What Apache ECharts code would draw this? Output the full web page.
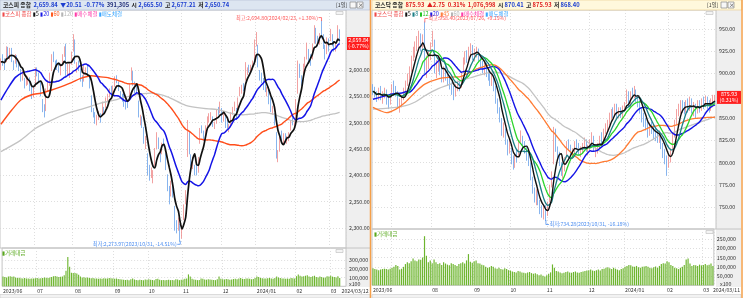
<!DOCTYPE html>
<html>
<head>
<meta charset="utf-8">
<script src="https://cdn.jsdelivr.net/npm/echarts@6.0.0/dist/echarts.min.js"></script>
<style>
html,body{margin:0;padding:0;background:#ffffff;}
#chart{width:743px;height:298px;}
</style>
</head>
<body>
<div id="chart"></div>
<script>
// ---------------- DATA ----------------
const tradingDays = [
  ['2023/06', [5,7,8,9,12,13,14,15,16,19,20,21,22,23,26,27,28,29,30]],
  ['2023/07', [3,4,5,6,7,10,11,12,13,14,17,18,19,20,21,24,25,26,27,28,31]],
  ['2023/08', [1,2,3,4,7,8,9,10,11,14,16,17,18,21,22,23,24,25,28,29,30,31]],
  ['2023/09', [1,4,5,6,7,8,11,12,13,14,15,18,19,20,21,22,25,26,27]],
  ['2023/10', [4,5,6,10,11,12,13,16,17,18,19,20,23,24,25,26,27,30,31]],
  ['2023/11', [1,2,3,6,7,8,9,10,13,14,15,16,17,20,21,22,23,24,27,28,29,30]],
  ['2023/12', [1,4,5,6,7,8,11,12,13,14,15,18,19,20,21,22,26,27,28]],
  ['2024/01', [2,3,4,5,8,9,10,11,12,15,16,17,18,19,22,23,24,25,26,29,30,31]],
  ['2024/02', [1,2,5,6,7,8,13,14,15,16,19,20,21,22,23,26,27,28,29]],
  ['2024/03', [4,5,6,7,8,11]]
];
const kospiLastLabel = '2024/03/12';
const kosdaqFirstDate = '2023/06/19';

// KOSPI (left)
const kospiOpen = [2605,2620,2612,2618,2640,2628,2640,2610,2615,2625,2605,2600,2585,2580,2575,2580,2585,2565,2552,
2570,2600,2590,2575,2540,2530,2525,2565,2575,2600,2630,2612,2615,2610,2595,2612,2630,2640,2598,2600,2615,
2640,2655,2605,2612,2600,2585,2580,2595,2605,2585,2550,2520,2515,2500,2515,2512,2520,2525,2530,2545,2555,2565,
2560,2570,2585,2575,2555,2550,2552,2540,2535,2545,2585,2595,2575,2565,2540,2500,2510,2490,2455,
2440,2415,2400,2390,2420,2455,2470,2440,2448,2465,2440,2400,2375,2365,2380,2340,2305,2310,2305,
2285,2320,2350,2440,2480,2430,2420,2415,2420,2410,2465,2492,2480,2475,2495,2505,2510,2510,2492,2500,2525,2520,
2525,2508,2510,2500,2488,2500,2520,2528,2525,2530,2555,2560,2570,2585,2595,2605,2600,2605,2620,
2650,2645,2595,2590,2580,2575,2555,2565,2545,2520,2515,2480,2430,2450,2480,2465,2475,2465,2470,2490,2505,2495,
2500,2560,2610,2585,2590,2612,2625,2635,2625,2625,2655,2675,2660,2655,2670,2665,2645,2635,2655,
2660,2665,2650,2640,2660,2665.5];
const kospiClose = [2615.4,2615.7,2610.4,2641.2,2629.4,2637.9,2619.1,2608.5,2625.8,2609.5,2604.9,2582.6,2593.7,2570.1,2582.2,2581.1,2564.2,2550.1,2564.3,
2602.5,2593.4,2579.0,2556.3,2526.7,2519.9,2562.5,2574.7,2591.3,2628.3,2619.1,2608.2,2607.2,2599.6,2609.8,2628.3,2636.5,2592.4,2603.8,2608.3,2632.6,
2667.1,2616.5,2605.4,2602.8,2580.7,2573.9,2605.1,2601.6,2591.3,2570.9,2525.6,2519.9,2504.5,2508.8,2516.1,2505.5,2537.7,2519.1,2543.4,2552.2,2561.2,2556.3,
2563.7,2584.6,2582.2,2563.3,2548.3,2547.7,2535.5,2536.6,2534.7,2572.9,2601.3,2574.7,2559.2,2559.7,2514.9,2508.1,2495.8,2462.9,2465.1,
2405.7,2403.6,2408.7,2402.6,2450.1,2479.8,2456.2,2436.2,2460.2,2462.6,2415.8,2375.0,2357.4,2383.5,2363.2,2299.1,2302.8,2310.6,2277.9,
2301.6,2343.1,2368.3,2502.4,2443.9,2421.6,2427.1,2409.7,2403.8,2433.3,2486.7,2488.2,2469.9,2491.2,2510.4,2511.7,2514.4,2496.6,2496.6,2521.8,2522.0,2535.3,
2505.0,2514.8,2495.7,2495.4,2492.1,2517.9,2525.4,2535.3,2510.7,2544.2,2563.6,2566.9,2568.6,2614.3,2600.0,2599.5,2602.6,2613.5,2655.3,
2669.8,2607.3,2587.0,2578.1,2567.8,2561.2,2562.0,2540.3,2525.1,2525.0,2497.6,2435.9,2440.0,2472.7,2464.4,2478.6,2469.7,2470.3,2478.6,2500.7,2498.8,2497.1,
2542.5,2615.3,2591.3,2576.2,2609.6,2620.3,2649.6,2620.4,2613.8,2648.8,2680.3,2657.8,2653.3,2664.3,2667.7,2647.1,2625.1,2658.8,2642.4,
2674.3,2649.4,2641.5,2647.6,2680.4,2659.84];
const kospiHigh = [2622,2630,2622,2645,2644,2642,2642,2618,2630,2628,2615,2602,2598,2585,2590,2588,2586,2568,2570,
2605,2605,2595,2578,2545,2535,2565,2580,2595,2630,2635,2618,2620,2615,2612,2630,2645,2650,2612,2612,2635,
2668,2658,2615,2618,2603,2590,2608,2605,2610,2590,2552,2528,2520,2515,2522,2518,2540,2530,2548,2555,2565,2570,
2570,2588,2590,2578,2560,2555,2555,2545,2542,2575,2605,2598,2578,2570,2542,2515,2512,2492,2475,
2442,2420,2415,2410,2452,2482,2472,2445,2462,2470,2442,2402,2380,2390,2385,2342,2315,2320,2308,
2305,2345,2372,2505,2482,2440,2435,2420,2425,2435,2490,2495,2485,2495,2512,2518,2520,2512,2502,2525,2530,2540,
2528,2520,2512,2505,2498,2520,2530,2540,2528,2548,2568,2572,2575,2615,2605,2610,2610,2618,2658,
2672,2648,2600,2595,2585,2578,2568,2568,2548,2532,2518,2482,2448,2475,2485,2480,2480,2475,2482,2505,2510,2505,
2545,2618,2612,2590,2612,2625,2652,2640,2630,2650,2685,2680,2665,2670,2694.8,2668,2648,2662,2660,
2678,2668,2655,2652,2685,2677.21];
const kospiLow = [2600,2608,2600,2615,2622,2620,2615,2600,2612,2605,2598,2578,2580,2565,2570,2572,2560,2545,2548,
2568,2588,2575,2550,2520,2510,2522,2560,2570,2598,2615,2600,2600,2595,2590,2608,2625,2588,2590,2585,2610,
2635,2612,2595,2598,2578,2568,2578,2590,2588,2565,2520,2510,2498,2495,2505,2500,2515,2515,2528,2540,2548,2550,
2552,2568,2575,2560,2545,2540,2530,2525,2528,2542,2580,2570,2555,2555,2510,2495,2490,2460,2450,
2400,2390,2395,2385,2418,2450,2450,2425,2440,2455,2410,2370,2345,2360,2358,2295,2290,2295,2273.97,
2280,2315,2345,2435,2440,2418,2412,2400,2400,2405,2460,2480,2465,2470,2490,2500,2505,2492,2488,2498,2515,2518,
2500,2502,2490,2488,2482,2495,2515,2522,2505,2525,2550,2555,2560,2580,2590,2595,2595,2600,2618,
2645,2605,2580,2575,2562,2558,2550,2535,2520,2515,2495,2432,2425,2445,2460,2458,2462,2460,2465,2485,2495,2490,
2498,2555,2585,2570,2585,2605,2620,2615,2608,2620,2650,2650,2645,2648,2660,2640,2620,2630,2635,
2655,2645,2635,2635,2655,2650.74];
const kospiValue = [110000,105000,100000,112000,115000,108000,110000,100000,95000,98000,92000,90000,95000,88000,90000,85000,88000,90000,92000,
95000,90000,92000,95000,100000,98000,95000,100000,105000,115000,118000,110000,105000,108000,112000,125000,178000,333000,222000,155000,150000,
150000,145000,130000,110000,100000,102000,98000,100000,95000,92000,95000,90000,88000,85000,90000,85000,92000,88000,90000,95000,92000,90000,
85000,88000,82000,80000,78000,75000,72000,75000,70000,80000,88000,78000,72000,70000,75000,72000,70000,78000,75000,
80000,75000,72000,70000,82000,85000,75000,70000,72000,68000,72000,75000,70000,72000,68000,80000,78000,70000,75000,
78000,85000,90000,135000,110000,85000,78000,75000,70000,72000,88000,85000,78000,75000,80000,78000,75000,72000,70000,80000,111000,85000,
80000,78000,82000,80000,75000,78000,82000,85000,80000,90000,95000,85000,82000,90000,88000,85000,80000,82000,95000,
110000,105000,95000,92000,90000,88000,92000,95000,90000,85000,95000,110000,100000,95000,88000,90000,85000,88000,85000,95000,92000,90000,
115000,135000,120000,110000,115000,120000,125000,110000,105000,115000,120000,105000,100000,110000,105000,98000,100000,115000,110000,
120000,110000,105000,100000,115000,95000];
const kospiMa20Early = [[0,2543],[4,2566],[8,2586],[12,2595],[16,2598]];
const kospiMa60Early = [[0,2497],[6,2524],[11,2543],[17,2553],[22,2556],[28,2562],[33,2568],[39,2576],[44,2584],[50,2589],[55,2587]];
const kospiMa120Early = [[0,2445],[11,2467],[19,2489],[28,2505],[37,2518],[46,2527],[55,2537],[64,2544],[74,2553],[83,2556],[92,2549],[102,2533],[112,2527]];
const kospiPriceTicks = [2300,2350,2400,2450,2500,2550,2600,2650];
const kospiValueTicks = [100000,200000,300000];

// KOSDAQ (right)
const kosdaqOpen = [884,881,878,872,882,872,876,880,870,868,
878,886,884,878,862,866,874,882,890,896,906,920,922,932,936,940,932,945,905,912,918,
934,935,902,912,914,904,895,906,898,895,886,880,878,884,888,886,902,915,922,916,925,930,
918,922,926,918,912,903,910,900,898,890,896,884,870,858,848,832,836,822,814,
815,802,798,810,808,826,828,820,815,808,798,782,768,758,766,755,745,740,748,
744,758,775,800,835,815,808,798,786,794,808,822,818,808,812,822,820,810,812,818,824,812,
818,822,828,812,814,818,828,826,836,838,845,852,858,854,864,854,860,852,860,
868,878,865,880,876,880,872,868,860,852,846,844,834,842,838,834,832,826,830,820,812,806,
798,805,815,830,846,858,860,866,862,860,866,862,868,858,862,858,866,862,868,
865,870,866,862,866,870.41];
const kosdaqClose = [880,877,872,880,874,875,878,872,869,875,
884,882,879,868,866,872,880,888,895,905,918,922,930,935,938,930,940,902,912,916,932,
939,905,910,912,905,896,905,897,893,888,882,880,883,886,885,900,915,920,917,924,928,920,
922,925,918,912,905,908,902,898,892,895,886,870,860,852,835,838,825,815,822,
801,798,806,805,823,830,818,815,806,800,784,768,762,765,758,746,742,745,745,
752,772,784,839,815,806,800,789,792,803,821,818,808,812,820,819,812,813,818,823,815,817,
823,830,815,814,818,826,827,835,838,845,852,856,855,862,855,858,855,860,866,
879,866,878,878,879,872,868,860,850,845,842,835,840,838,832,830,828,832,820,812,805,799,
806,812,830,845,858,860,865,862,860,865,862,868,860,862,858,865,862,868,865,
870,865,862,868,873.18,875.93];
const kosdaqHigh = [888,885,880,884,886,880,884,882,875,878,
888,892,886,880,872,876,884,892,900,908,920,930,936,942,948,945,944,958.4,920,925,935,
948,938,915,920,918,908,908,910,902,898,890,886,888,892,892,902,918,925,926,930,934,932,
928,930,928,920,914,912,912,905,900,900,898,886,872,862,850,845,838,826,826,
816,808,810,814,825,836,830,824,818,812,800,784,772,770,770,758,752,752,752,
756,775,790,840,838,818,812,800,796,806,824,826,820,816,824,826,822,818,822,828,826,820,
826,834,830,818,822,830,834,838,844,848,856,860,862,866,866,862,862,864,868,
882,880,880,884,886,882,876,870,862,856,850,846,845,846,842,838,836,836,832,822,815,808,
810,816,834,848,860,866,870,870,868,870,872,874,872,868,866,870,870,872,874,
875,874,870,872,876,875.93];
const kosdaqLow = [876,873,868,870,870,866,872,865,860,865,
875,878,874,862,856,862,870,878,886,892,902,914,918,925,928,925,928,898,895,905,915,
930,900,895,902,898,890,890,892,886,882,876,870,874,880,880,884,900,910,912,914,920,915,
914,918,912,906,900,898,896,892,886,886,880,866,855,845,830,828,820,808,810,
798,792,794,800,806,822,814,810,802,796,780,765,755,752,752,742,738,736,734.28,
740,755,772,798,812,802,796,785,782,790,805,814,804,804,810,814,808,806,810,815,812,808,
814,820,812,806,810,815,822,824,832,835,842,848,850,852,850,850,850,850,857,
866,862,862,872,872,868,862,855,845,840,836,828,830,832,826,824,822,822,815,805,798,785,
794,800,812,828,842,852,855,856,854,856,856,858,855,852,850,855,856,858,860,
862,860,856,858,862,868.40];
const kosdaqValue = [92000,88000,85000,82000,85000,88000,90000,88000,85000,90000,
95000,100000,110000,105000,85000,90000,100000,115000,125000,120000,130000,145000,135000,130000,140000,138000,150000,266000,160000,125000,135000,
120000,140000,125000,115000,120000,110000,125000,118000,112000,108000,120000,115000,110000,105000,115000,120000,125000,118000,135000,169000,128000,122000,
130000,135000,120000,118000,112000,108000,100000,95000,98000,105000,100000,92000,90000,95000,88000,85000,92000,88000,82000,
80000,75000,72000,70000,78000,75000,70000,68000,65000,70000,72000,66000,62000,65000,60000,55000,58000,52000,48000,
55000,62000,70000,113000,95000,78000,75000,70000,65000,68000,72000,75000,70000,68000,72000,75000,70000,68000,72000,75000,78000,80000,
82000,85000,80000,78000,82000,85000,80000,88000,90000,95000,98000,92000,88000,95000,90000,85000,82000,88000,92000,
100000,105000,110000,108000,102000,100000,105000,98000,95000,100000,102000,105000,100000,95000,92000,98000,102000,95000,105000,115000,120000,118000,
130000,125000,110000,105000,95000,92000,88000,95000,100000,110000,140000,145000,118000,105000,110000,108000,105000,112000,108000,
110000,115000,108000,112000,118000,105000];
const kosdaqMa20Early = [[0,871],[5,874],[10,877],[15,878],[18,880]];
const kosdaqMa45Early = [[0,862],[4,858],[7,856],[12,860],[17,868],[22,879],[27,888],[34,894],[41,896]];
const kosdaqMa60Early = [[0,860],[8,861],[17,864],[22,868],[27,875],[34,883],[43,890],[52,896]];
const kosdaqPriceTicks = [750,775,800,825,850,875,900,925,950];
const kosdaqValueTicks = [50000,100000,150000,200000,250000];

// ---------------- BUILD ----------------
const FONT = '"Noto Sans CJK KR", "DejaVu Sans", sans-serif';
const allDates = [];
tradingDays.forEach(([ym, days]) => days.forEach(d => allDates.push(ym + '/' + String(d).padStart(2, '0'))));
const kospiDates = allDates.slice();
const kosdaqDates = allDates.slice(allDates.indexOf(kosdaqFirstDate));
const kospiCats = kospiDates.concat([kospiLastLabel, ' ', '  ']);
const kosdaqCats = kosdaqDates.slice();

function monthStarts(dates) {
  const s = [];
  for (let i = 1; i < dates.length; i++) if (dates[i].slice(0, 7) !== dates[i - 1].slice(0, 7)) s.push(i);
  return s;
}
const leftMonth = monthStarts(kospiDates);
const rightMonth = monthStarts(kosdaqDates);
const leftLabelSet = new Set([0, ...leftMonth, kospiDates.length]);
const rightLabelSet = new Set([0, ...rightMonth.filter(i => kosdaqDates[i].slice(0, 7) !== '2023/07'), kosdaqDates.length - 1]);
const leftSplitSet = new Set(leftMonth);
const rightSplitSet = new Set(rightMonth);

function dateFormatter(lastIdx) {
  return function (value, idx) {
    if (idx === 0) return value.slice(0, 7);
    if (idx === lastIdx) return value;
    if (value.slice(5, 7) === '01') return value.slice(0, 7);
    return value.slice(5, 7);
  };
}

function movingAverage(values, n, early) {
  return values.map((_, i) => {
    if (i >= n - 1) {
      let s = 0; for (let k = i - n + 1; k <= i; k++) s += values[k];
      return +(s / n).toFixed(2);
    }
    if (!early) {
      let s = 0; for (let k = 0; k <= i; k++) s += values[k];
      return +(s / (i + 1)).toFixed(2);
    }
    const hit = early.find(p => p[0] === i);
    return hit ? hit[1] : null;
  });
}

const kospiCandles = kospiClose.map((c, i) => [kospiOpen[i], c, kospiLow[i], kospiHigh[i]]);
const kosdaqCandles = kosdaqClose.map((c, i) => [kosdaqOpen[i], c, kosdaqLow[i], kosdaqHigh[i]]);

const fmtPrice = v => v.toLocaleString('en-US', {minimumFractionDigits: 2, maximumFractionDigits: 2});
const fmtVol = v => v.toLocaleString('en-US');

const gridLine = {show: true, lineStyle: {color: '#d6d6d6', type: [1, 2], width: 0.8}};

function catAxis(grid, cats, showLabel, labelSet, splitSet, lastIdx) {
  return {
    type: 'category', gridIndex: grid, data: cats, boundaryGap: true,
    axisLine: {show: false}, axisTick: {show: false},
    axisLabel: {show: showLabel, interval: i => labelSet.has(i), formatter: dateFormatter(lastIdx),
      align: 'left', fontSize: 5.2, color: '#333', margin: 2.5, fontFamily: FONT},
    splitLine: {show: true, interval: i => splitSet.has(i), lineStyle: {color: '#d6d6d6', type: [1, 2], width: 0.8}}
  };
}
function valAxis(grid, min, max, ticks, fmt) {
  return {
    type: 'value', gridIndex: grid, position: 'right', min, max, scale: true,
    axisLine: {show: false},
    axisTick: {show: false, customValues: ticks},
    axisLabel: {customValues: ticks, formatter: fmt, fontSize: 5.3, color: '#333', margin: 3, fontFamily: FONT},
    splitLine: gridLine
  };
}

const lineBase = {type: 'line', showSymbol: false, symbol: 'none', connectNulls: true, smooth: 0.25, silent: true};
const candleStyle = {color: '#f6a3a3', color0: '#8ab9f0', borderColor: '#ef8a8a', borderColor0: '#6aa2ea', borderWidth: 0.8};

const option = {
  animation: false,
  backgroundColor: '#ffffff',
  textStyle: {fontFamily: FONT},
  grid: [
    {left: 0, top: 10, width: 346, height: 238, show: true, borderColor: '#c4c4c4', borderWidth: 1},
    {left: 0, top: 248, width: 346, height: 38.3, show: true, borderColor: '#c4c4c4', borderWidth: 1},
    {left: 372, top: 10, width: 344, height: 219, show: true, borderColor: '#c4c4c4', borderWidth: 1},
    {left: 372, top: 229, width: 344, height: 56.3, show: true, borderColor: '#c4c4c4', borderWidth: 1}
  ],
  xAxis: [
    catAxis(0, kospiCats, false, leftLabelSet, leftSplitSet, kospiDates.length),
    catAxis(1, kospiCats, true, leftLabelSet, leftSplitSet, kospiDates.length),
    catAxis(2, kosdaqCats, false, rightLabelSet, rightSplitSet, kosdaqDates.length - 1),
    catAxis(3, kosdaqCats, true, rightLabelSet, rightSplitSet, kosdaqDates.length - 1)
  ],
  yAxis: [
    valAxis(0, 2262.2, 2713.9, kospiPriceTicks, fmtPrice),
    valAxis(1, 0, 435000, kospiValueTicks, fmtVol),
    valAxis(2, 725.3, 971.3, kosdaqPriceTicks, fmtPrice),
    valAxis(3, 0, 305000, kosdaqValueTicks, fmtVol)
  ],
  series: [
    {type: 'candlestick', xAxisIndex: 0, yAxisIndex: 0, data: kospiCandles, barWidth: 1.2, itemStyle: candleStyle, silent: true, z: 2},
    Object.assign({}, lineBase, {name: '120', xAxisIndex: 0, yAxisIndex: 0, data: movingAverage(kospiClose, 120, kospiMa120Early), lineStyle: {color: '#c3c3c3', width: 1.3}, z: 3}),
    Object.assign({}, lineBase, {name: '60', xAxisIndex: 0, yAxisIndex: 0, data: movingAverage(kospiClose, 60, kospiMa60Early), lineStyle: {color: '#ff4d1a', width: 1.4}, z: 4}),
    Object.assign({}, lineBase, {name: '20', xAxisIndex: 0, yAxisIndex: 0, data: movingAverage(kospiClose, 20, kospiMa20Early), lineStyle: {color: '#1414e6', width: 1.5}, z: 5}),
    Object.assign({}, lineBase, {name: '5', xAxisIndex: 0, yAxisIndex: 0, data: movingAverage(kospiClose, 5, null), lineStyle: {color: '#111111', width: 1.7}, z: 6}),
    {type: 'bar', xAxisIndex: 1, yAxisIndex: 1, data: kospiValue, barWidth: '62%', itemStyle: {color: '#6db52e'}, silent: true},

    {type: 'candlestick', xAxisIndex: 2, yAxisIndex: 2, data: kosdaqCandles, barWidth: 1.3, itemStyle: candleStyle, silent: true, z: 2},
    Object.assign({}, lineBase, {name: '60', xAxisIndex: 2, yAxisIndex: 2, data: movingAverage(kosdaqClose, 60, kosdaqMa60Early), lineStyle: {color: '#c3c3c3', width: 1.3}, z: 3}),
    Object.assign({}, lineBase, {name: '45', xAxisIndex: 2, yAxisIndex: 2, data: movingAverage(kosdaqClose, 45, kosdaqMa45Early), lineStyle: {color: '#ff7b33', width: 1.3}, z: 4}),
    Object.assign({}, lineBase, {name: '20', xAxisIndex: 2, yAxisIndex: 2, data: movingAverage(kosdaqClose, 20, kosdaqMa20Early), lineStyle: {color: '#1414e6', width: 1.4}, z: 5}),
    Object.assign({}, lineBase, {name: '12', xAxisIndex: 2, yAxisIndex: 2, data: movingAverage(kosdaqClose, 12, null), lineStyle: {color: '#2bd42b', width: 1.3}, z: 6}),
    Object.assign({}, lineBase, {name: '8', xAxisIndex: 2, yAxisIndex: 2, data: movingAverage(kosdaqClose, 8, null), lineStyle: {color: '#1b7f86', width: 1.3}, z: 7}),
    Object.assign({}, lineBase, {name: '5', xAxisIndex: 2, yAxisIndex: 2, data: movingAverage(kosdaqClose, 5, null), lineStyle: {color: '#111111', width: 1.4}, z: 8}),
    {type: 'bar', xAxisIndex: 3, yAxisIndex: 3, data: kosdaqValue, barWidth: '62%', itemStyle: {color: '#6db52e'}, silent: true}
  ]
};

const chart = echarts.init(document.getElementById('chart'), null, {renderer: 'canvas', width: 743, height: 298});
chart.setOption(option);

// ---------------- DECORATION ----------------
function px(grid, idx, val) { return chart.convertToPixel({xAxisIndex: grid, yAxisIndex: grid}, [idx, val]); }
function text(x, y, t, st) {
  return {type: 'text', x, y, silent: true, z: 50,
    style: Object.assign({text: t, fontSize: 5.5, fontFamily: FONT, fill: '#333', verticalAlign: 'middle', align: 'left'}, st || {})};
}
function rect(x, y, w, h, fill, stroke, z) {
  return {type: 'rect', silent: true, z: z === undefined ? -5 : z, shape: {x, y, width: w, height: h},
    style: {fill: fill, stroke: stroke || null, lineWidth: 0.6}};
}
function line(pts, color, w, z) {
  return {type: 'polyline', silent: true, z: z || 40, shape: {points: pts}, style: {stroke: color, lineWidth: w || 0.8, fill: null}};
}

const g = [];
// axis areas
g.push(rect(346, 10, 24, 277, '#efefef', null, -5));
g.push(rect(716, 10, 25, 277, '#efefef', null, -5));
// headers
g.push(rect(0, 0, 370, 10, '#dde6f1', '#aebbd0', 1));
g.push(rect(372, 0, 370, 10, '#fff8dc', '#e8c98a', 1));
const hdRich = {
  k: {fill: '#202020', fontSize: 5.8, fontWeight: 'bold', fontFamily: FONT},
  b: {fill: '#1d3fd0', fontSize: 5.8, fontWeight: 'bold', fontFamily: FONT},
  r: {fill: '#e01e1e', fontSize: 5.8, fontWeight: 'bold', fontFamily: FONT},
  n: {fill: '#23307a', fontSize: 5.8, fontWeight: 'bold', fontFamily: FONT}
};
g.push(text(3, 5, '{k|코스피 종합}  {b|2,659.84  ▼20.51  -0.77%}  {n|391,305}  {k|시} {b|2,665.50}  {k|고} {b|2,677.21}  {k|저} {b|2,650.74}', {rich: hdRich}));
g.push(text(375, 5, '{k|코스닥 종합}  {r|875.93  ▲2.75  0.31%}  {r|1,076,998}  {k|시} {b|870.41}  {k|고} {r|875.93}  {k|저} {b|868.40}', {rich: hdRich}));
[[336, 0], [707, 0]].forEach(([x]) => {
  g.push(text(x, 5, '[1일]', {fontSize: 5.3, fill: '#333'}));
  g.push(rect(x + 14, 2, 6, 6, '#f7f7f7', '#777', 2));
  g.push(rect(x + 21, 2, 6, 6, '#f7f7f7', '#777', 2));
  g.push(text(x + 22, 5, '×', {fontSize: 5.5, fill: '#333'}));
});
// legends
const lgRich = {
  red: {fill: '#ef4b4b', fontSize: 5.5, fontFamily: FONT}, blk: {fill: '#111', fontSize: 5.5, fontFamily: FONT},
  blu: {fill: '#1a1ae6', fontSize: 5.5, fontFamily: FONT}, org: {fill: '#ff5a1f', fontSize: 5.5, fontFamily: FONT},
  gry: {fill: '#b5b5b5', fontSize: 5.5, fontFamily: FONT}, mag: {fill: '#ff3aa8', fontSize: 5.5, fontFamily: FONT},
  cya: {fill: '#3aa6ff', fontSize: 5.5, fontFamily: FONT}, tea: {fill: '#1b7f86', fontSize: 5.5, fontFamily: FONT},
  grn: {fill: '#22c322', fontSize: 5.5, fontFamily: FONT}, ora: {fill: '#ff8040', fontSize: 5.5, fontFamily: FONT},
  vol: {fill: '#58a81c', fontSize: 5.5, fontFamily: FONT}
};
g.push(text(2, 13.5, '{red|▮코스피 종합} {blk|▮5} {blu|▮20} {org|▮60} {gry|▮120} {mag|▮매수체결} {cya|▮매도체결}', {rich: lgRich}));
g.push(text(374, 13.5, '{red|▮코스닥 종합} {blk|▮5} {tea|▮8} {grn|▮12} {blu|▮20} {ora|▮45} {gry|▮60} {mag|▮매수체결} {cya|▮매도체결}', {rich: lgRich}));
g.push(text(2, 252.5, '{vol|▮거래대금}', {rich: lgRich}));
g.push(text(374, 233.5, '{vol|▮거래대금}', {rich: lgRich}));
// small panel icons
g.push(rect(336, 11.5, 7, 3, '#f4f4f4', '#bbb', 2));
g.push(rect(336, 249.5, 7, 3, '#f4f4f4', '#bbb', 2));
g.push(rect(706, 11.5, 7, 3, '#f4f4f4', '#bbb', 2));
g.push(rect(706, 230.5, 7, 3, '#f4f4f4', '#bbb', 2));
// unit labels
g.push(text(349, 283.5, 'x100', {fontSize: 5.3}));
g.push(text(720, 283.5, 'x100', {fontSize: 5.3}));
// current price boxes
const lp = px(0, kospiDates.length - 1, kospiClose[kospiClose.length - 1]);
g.push(rect(347, lp[1] - 1.5, 23, 13, '#ff1f1f', null, 45));
g.push(text(358.5, lp[1] + 2, '2,659.84', {fill: '#fff', fontSize: 5.3, align: 'center'}));
g.push(text(358.5, lp[1] + 8, '(-0.77%)', {fill: '#fff', fontSize: 5.3, align: 'center'}));
const rp = px(2, kosdaqDates.length - 1, kosdaqClose[kosdaqClose.length - 1]);
g.push(rect(717, rp[1] - 4, 24, 13, '#ff1f1f', null, 45));
g.push(text(729, rp[1] - 0.5, '875.93', {fill: '#fff', fontSize: 5.3, align: 'center'}));
g.push(text(729, rp[1] + 5.5, '(0.31%)', {fill: '#fff', fontSize: 5.3, align: 'center'}));
// high / low annotations
const kospiHiIdx = kospiHigh.indexOf(Math.max(...kospiHigh));
const kospiLoIdx = kospiLow.indexOf(Math.min(...kospiLow));
const kosdaqHiIdx = kosdaqHigh.indexOf(Math.max(...kosdaqHigh));
const kosdaqLoIdx = kosdaqLow.indexOf(Math.min(...kosdaqLow));
const a1 = px(0, kospiHiIdx, kospiHigh[kospiHiIdx]);
g.push(line([[a1[0] - 3, a1[1] - 2.5], [a1[0], a1[1] - 2.5], [a1[0], a1[1] + 1]], '#ff5a5a'));
g.push(text(a1[0] - 3.5, a1[1] - 2.5, '최고:2,694.80(2024/02/23, +1.30%)', {fill: '#ff5a5a', fontSize: 5.2, align: 'right'}));
const a2 = px(0, kospiLoIdx, kospiLow[kospiLoIdx]);
g.push(line([[a2[0] - 3, a2[1] + 2.5], [a2[0], a2[1] + 2.5], [a2[0], a2[1] - 1]], '#4d8ef0'));
g.push(text(a2[0] - 3.5, a2[1] + 2, '최저:2,273.97(2023/10/31, -14.51%)', {fill: '#4d8ef0', fontSize: 5.2, align: 'right'}));
const a3 = px(2, kosdaqHiIdx, kosdaqHigh[kosdaqHiIdx]);
g.push(line([[a3[0], a3[1] + 1], [a3[0], a3[1] - 3], [a3[0] + 3, a3[1] - 3]], '#ff5a5a'));
g.push(text(a3[0] + 3.5, a3[1] - 3, '최고:958.40(2023/07/26, +9.15%)', {fill: '#ff5a5a', fontSize: 5.2}));
const a4 = px(2, kosdaqLoIdx, kosdaqLow[kosdaqLoIdx]);
g.push(line([[a4[0], a4[1] - 1], [a4[0], a4[1] + 3.5], [a4[0] + 3, a4[1] + 3.5]], '#4d8ef0'));
g.push(text(a4[0] + 3.5, a4[1] + 3.5, '최저:734.28(2023/10/31, -16.18%)', {fill: '#4d8ef0', fontSize: 5.2}));
// frames
g.push(line([[370.5, 0], [370.5, 298]], '#f5a04a', 1.5, 60));
g.push(line([[742, 0], [742, 298]], '#f5a04a', 1.5, 60));
g.push(line([[346, 248], [370, 248]], '#c4c4c4', 1, 10));
g.push(line([[716, 229], [741, 229]], '#c4c4c4', 1, 10));
// bottom scroll strip
g.push(rect(0, 294.5, 370, 3.5, '#f2f2f2', '#c8c8c8', 1));
g.push(rect(372, 294.5, 369, 3.5, '#f2f2f2', '#c8c8c8', 1));

chart.setOption({graphic: {elements: g}});
</script>
</body>
</html>
